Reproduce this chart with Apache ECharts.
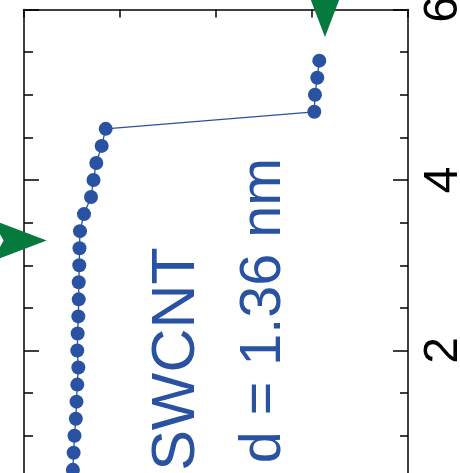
<!DOCTYPE html>
<html>
<head>
<meta charset="utf-8">
<script src="https://cdn.jsdelivr.net/npm/echarts@6/dist/echarts.min.js"></script>
<style>html,body{margin:0;padding:0;background:#fff}#c{width:460px;height:473px}</style>
</head>
<body>
<div id="c"></div>
<script>
// Vertical axis values (right axis, ticks 2/4/6)
const energy = [0.6, 0.8, 1.0, 1.2, 1.4, 1.6, 1.8, 2.0, 2.2, 2.4, 2.6, 2.8, 3.0, 3.2, 3.4, 3.6, 3.8, 4.0, 4.2, 4.4, 4.6, 4.8, 5.0, 5.2, 5.4];
// Horizontal position of each point
const response = [0.009, 0.017, 0.026, 0.040, 0.047, 0.055, 0.066, 0.055, 0.059, 0.066, 0.070, 0.070, 0.076, 0.078, 0.083, 0.125, 0.198, 0.224, 0.253, 0.309, 0.351, 2.524, 2.531, 2.555, 2.576];
const yTickLabels = ['0', '2', '4', '6'];
const labelLines = ['SWCNT', 'd = 1.36 nm'];
// arrow tips [x, y] in data units
const arrowLeftTip = [-0.264, 3.29];
const arrowTopTip = [2.635, 5.677];

const BLUE = '#2a52a3';
const GREEN = '#06793d';
const FONT = 'Liberation Sans, Arial, sans-serif';
const arrowPath = 'path://M55,21L0,0L12,21L0,42Z';

const chart = echarts.init(document.getElementById('c'), null, {renderer: 'canvas'});
const frameLine = {show: true, onZero: false, lineStyle: {color: '#000', width: 1.5}};
chart.setOption({
  animation: false,
  backgroundColor: '#fff',
  grid: [
    {left: 24, right: 52, top: 9.5, bottom: -48, outerBoundsMode: 'none', containLabel: false},
    {left: 72, right: 100, top: 9.5, bottom: -48, outerBoundsMode: 'none', containLabel: false}
  ],
  xAxis: [
    {type: 'value', gridIndex: 0, position: 'top', min: -0.5, max: 3.5, interval: 1,
     axisLine: frameLine,
     axisTick: {show: true, inside: true, length: 8, lineStyle: {color: '#000', width: 1.5}},
     axisLabel: {show: false}, splitLine: {show: false}},
    {type: 'value', gridIndex: 1, position: 'top', min: 0, max: 3, interval: 1,
     axisLine: {show: false},
     axisTick: {show: true, inside: true, length: 14, lineStyle: {color: '#000', width: 1.5}},
     axisLabel: {show: false}, splitLine: {show: false}}
  ],
  yAxis: [
    {type: 'value', gridIndex: 0, position: 'right', min: 0, max: 6, interval: 2,
     axisLine: frameLine,
     axisTick: {show: true, inside: true, length: 15, lineStyle: {color: '#000', width: 1.5}},
     minorTick: {show: true, splitNumber: 4, length: 8, lineStyle: {color: '#000', width: 1.5}},
     axisLabel: {show: true, rotate: 90, fontSize: 48, color: '#000', fontFamily: FONT, margin: 12,
       showMinLabel: false, showMaxLabel: true,
       formatter: v => yTickLabels[Math.round(v / 2)] || ''},
     splitLine: {show: false}},
    {type: 'value', gridIndex: 0, position: 'left', min: 0, max: 6, interval: 2,
     axisLine: frameLine,
     axisTick: {show: true, inside: true, length: 15, lineStyle: {color: '#000', width: 1.5}},
     minorTick: {show: true, splitNumber: 4, length: 9, lineStyle: {color: '#000', width: 1.5}},
     axisLabel: {show: false}, splitLine: {show: false}},
    {type: 'value', gridIndex: 1, show: false, min: 0, max: 6}
  ],
  series: [{
    type: 'line',
    xAxisIndex: 0, yAxisIndex: 0,
    data: energy.map((e, i) => [response[i], e]),
    symbol: 'circle', symbolSize: 14,
    itemStyle: {color: BLUE},
    lineStyle: {color: BLUE, width: 1.3},
    clip: false,
    markPoint: {
      symbol: arrowPath,
      symbolKeepAspect: false,
      label: {show: false},
      itemStyle: {color: GREEN},
      data: [
        {coord: arrowLeftTip, symbolSize: [55, 42], symbolOffset: [-27.5, 0], symbolRotate: 0},
        {coord: arrowTopTip, symbolSize: [55, 42], symbolOffset: [0, -27.5], symbolRotate: -90}
      ]
    }
  }],
  graphic: [
    {type: 'text', x: 177.5, y: 359, rotation: Math.PI / 2,
     style: {text: labelLines[0], fill: BLUE, fontSize: 61, fontFamily: FONT, align: 'center', verticalAlign: 'middle'}},
    {type: 'text', x: 264.5, y: 310.5, rotation: Math.PI / 2,
     style: {text: labelLines[1], fill: BLUE, fontSize: 57.5, fontFamily: FONT, align: 'center', verticalAlign: 'middle'}}
  ]
});
</script>
</body>
</html>
